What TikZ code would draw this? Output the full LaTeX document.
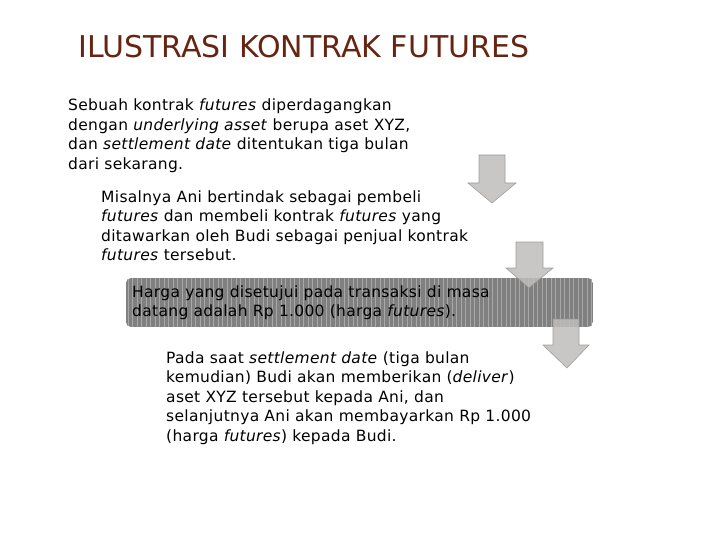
\documentclass[tikz,border=0pt]{standalone}
\usepackage{fontspec}
\usepackage{xcolor}
\setmainfont{DejaVu Sans}[LetterSpace=2]
\definecolor{titlebrown}{RGB}{102,36,18}
\definecolor{arrowgray}{RGB}{192,188,188}
\definecolor{arrowedge}{RGB}{150,146,146}
\definecolor{bargray}{RGB}{128,128,128}
\definecolor{barstripe}{RGB}{168,168,168}

\tikzset{
  bodytext/.style={anchor=base west, inner sep=0pt, align=left,
    font=\fontsize{15.5}{19.5}\selectfont},
  downarrow/.style={fill=arrowgray, draw=arrowedge, line width=0.6pt, opacity=0.85}
}

\begin{document}
\begin{tikzpicture}[x=1pt,y=-1pt]
\useasboundingbox (0,0) rectangle (720,540);

% title
\node[anchor=base west, inner sep=0pt, text=titlebrown,
  font=\addfontfeature{LetterSpace=0}\fontsize{30}{34}\selectfont] (title) at (78,58) {ILUSTRASI KONTRAK FUTURES};

% striped bar behind the third step
\begin{scope}
\clip[rounded corners=5] (126,278) rectangle (593,327);
\fill[bargray] (126,278) rectangle (593,327);
\foreach \x in {128,132.5,...,592}
  \draw[barstripe, line width=0.9pt] (\x,278) -- (\x,327);
\end{scope}

% steps (anchored at the baseline of the last line)
\node[bodytext] (stepone) at (68,169.5) {Sebuah kontrak \textit{futures} diperdagangkan\\
dengan \textit{underlying asset} berupa aset XYZ,\\
dan \textit{settlement date} ditentukan tiga bulan\\
dari sekarang.};

\node[bodytext] (steptwo) at (101,260.5) {Misalnya Ani bertindak sebagai pembeli\\
\textit{futures} dan membeli kontrak \textit{futures} yang\\
ditawarkan oleh Budi sebagai penjual kontrak\\
\textit{futures} tersebut.};

\node[bodytext] (stepthree) at (132,316.5) {Harga yang disetujui pada transaksi di masa\\
datang adalah Rp 1.000 (harga \textit{futures}).};

\node[bodytext] (stepfour) at (166,441) {Pada saat \textit{settlement date} (tiga bulan\\
kemudian) Budi akan memberikan (\textit{deliver})\\
aset XYZ tersebut kepada Ani, dan\\
selanjutnya Ani akan membayarkan Rp 1.000\\
(harga \textit{futures}) kepada Budi.};

% block arrows
\draw[downarrow] (479,155) -- (505,155) -- (505,183) -- (516,183) -- (492,203)
  -- (468,183) -- (479,183) -- cycle;
\draw[downarrow] (516,242) -- (543,242) -- (543,268) -- (553,268) -- (529,288)
  -- (506,268) -- (516,268) -- cycle;
\draw[downarrow] (553,319) -- (579,319) -- (579,345) -- (589,345) -- (567,368)
  -- (543,345) -- (553,345) -- cycle;
\end{tikzpicture}
\end{document}
